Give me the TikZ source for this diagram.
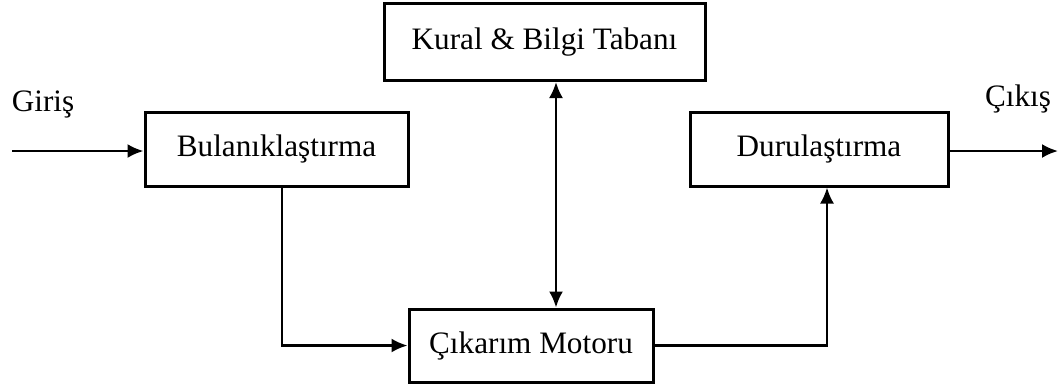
\documentclass[tikz,border=0pt]{standalone}
\usepackage{fontspec}
\setmainfont{Liberation Serif}
\usetikzlibrary{arrows.meta}
\begin{document}
\begin{tikzpicture}[x=0.5pt,y=-0.5pt,
  box/.style={draw,line width=1.5pt,inner sep=0pt,font=\fontsize{15.6}{18}\selectfont},
  lbl/.style={inner sep=0pt,font=\fontsize{15.6}{18}\selectfont},
  conn/.style={line width=1.2pt,-{Latex[length=8pt,width=7pt]}},
  dconn/.style={line width=1.2pt,{Latex[length=8pt,width=7pt]}-{Latex[length=8pt,width=7pt]}}]
\useasboundingbox (0,0) rectangle (1060,387);
\node[box,minimum width=160.5pt,minimum height=38.5pt] (kural) at (544.5,42) {Kural \& Bilgi Tabanı};
\node[box,minimum width=131.5pt,minimum height=37pt] (bul) at (276.5,149) {Bulanıklaştırma};
\node[box,minimum width=129pt,minimum height=37pt] (dur) at (819,149) {Durulaştırma};
\node[box,minimum width=122pt,minimum height=36.5pt] (cik) at (531,345.5) {Çıkarım Motoru};
\node[lbl] (giris) at (43,104) {Giriş};
\node[lbl] (cikis) at (1018,99) {Çıkış};
\coordinate (in) at (12,151);
\coordinate (out) at (1058,151);
\coordinate (v) at (556,0);
\coordinate (bx) at (282,0);
\coordinate (dx) at (827,0);
\draw[conn] (in) -- (bul.west |- in);
\draw[conn] (dur.east |- out) -- (out);
\draw[dconn] (kural.south -| v) -- (cik.north -| v);
\draw[conn] (bul.south -| bx) |- (cik.west);
\draw[conn] (cik.east) -| (dur.south -| dx);
\end{tikzpicture}
\end{document}
